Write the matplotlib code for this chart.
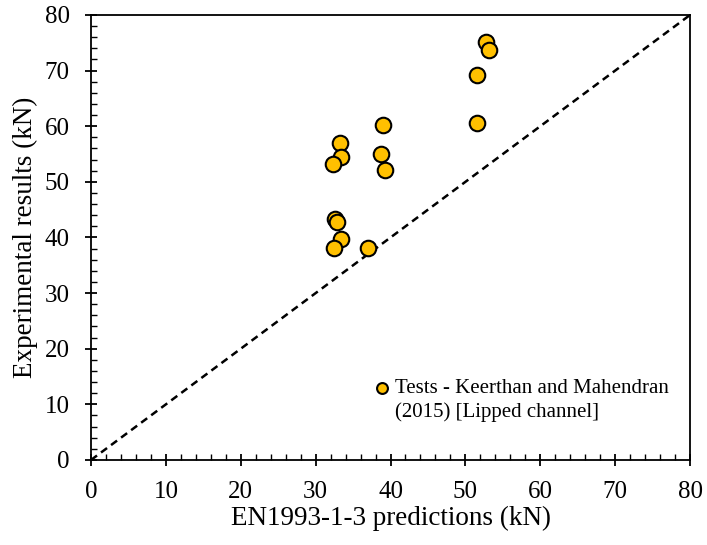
import numpy as np
import matplotlib.pyplot as plt
from matplotlib.ticker import MultipleLocator
from matplotlib.lines import Line2D

plt.rcParams['font.family'] = ['Liberation Serif', 'DejaVu Serif']

# EN1993-1-3 predictions vs tests (kN)
pred = [39.0, 33.3, 33.4, 32.3, 38.7, 39.3, 32.6, 32.8, 33.4, 32.4, 37.0, 52.8, 53.1, 51.6, 51.6]
test = [60.2, 56.9, 54.4, 53.2, 55.0, 52.2, 43.4, 42.8, 39.7, 38.1, 38.1, 75.1, 73.7, 69.3, 60.6]
ref_line = [0, 80]

fig = plt.figure(figsize=(7.07, 5.45), dpi=100)
ax = fig.add_axes([0.1287, 0.156, 0.976 - 0.1287, 0.9725 - 0.156])

ax.plot(ref_line, ref_line, 'k--', lw=1.8, dashes=(3, 2), zorder=1)
sc = ax.scatter(pred, test, s=125, color='#FFC000', edgecolor='black', linewidth=1.5, zorder=3)

ax.set_xlim(0, 80)
ax.set_ylim(0, 80)
ax.xaxis.set_major_locator(MultipleLocator(10))
ax.yaxis.set_major_locator(MultipleLocator(10))
ax.xaxis.set_minor_locator(MultipleLocator(2))
ax.yaxis.set_minor_locator(MultipleLocator(2))
ax.tick_params(which='major', direction='inout', length=8.6, width=1.3, labelsize=18, pad=11)
ax.tick_params(which='minor', direction='in', length=4, width=1.0)
for s in ax.spines.values():
    s.set_linewidth(1.3)

ax.set_xlabel('EN1993-1-3 predictions (kN)', fontsize=19.5, labelpad=2)
ax.set_ylabel('Experimental results (kN)', fontsize=19.5, labelpad=5)

# legend: marker on first line, second line without handle
blank = Line2D([], [], linestyle='none')
ax.legend([sc, blank], ['Tests - Keerthan and Mahendran', '(2015) [Lipped channel]'],
          loc='upper left', bbox_to_anchor=(0.469, 0.183), frameon=False, fontsize=15,
          handletextpad=0.1, handlelength=1.0, markerscale=0.7, labelspacing=0.2,
          borderpad=0, borderaxespad=0)

plt.savefig('out.png', dpi=100)
